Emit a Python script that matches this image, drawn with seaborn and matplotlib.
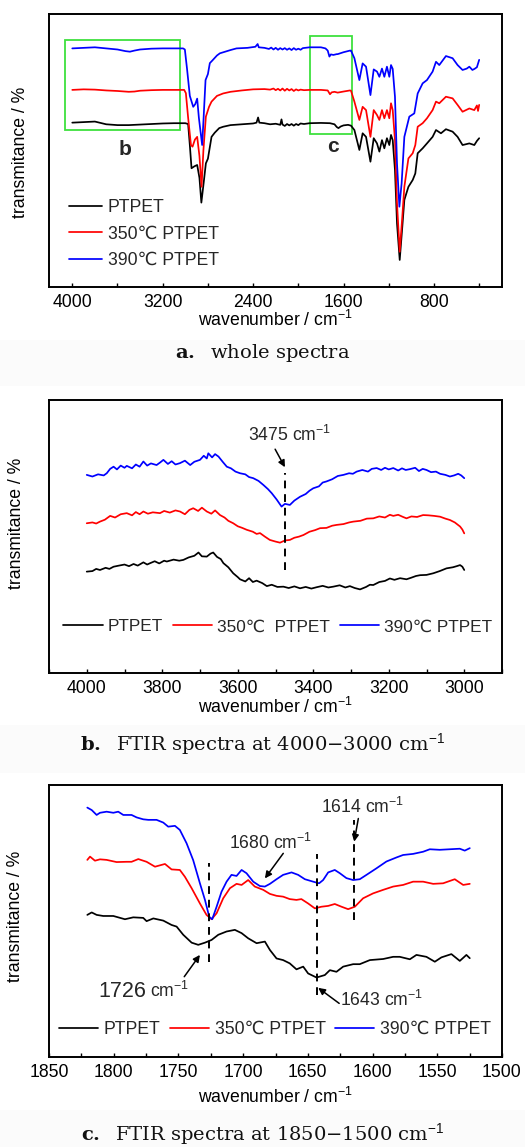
import numpy as np
import pandas as pd
import matplotlib
matplotlib.use("Agg")
import matplotlib.pyplot as plt
import seaborn as sns
from matplotlib.patches import Rectangle
from matplotlib.ticker import MultipleLocator

sns.set_theme(style="ticks")
plt.rcParams['font.family'] = ['Liberation Sans', 'DejaVu Sans']
plt.rcParams['mathtext.fontset'] = 'custom'
plt.rcParams['mathtext.rm'] = 'Liberation Sans'
plt.rcParams['mathtext.it'] = 'Liberation Sans:italic'
plt.rcParams['mathtext.bf'] = 'DejaVu Serif:bold'

# ---------------- data ----------------
series_names = ["PTPET", "350℃ PTPET", "390℃ PTPET"]
series_colors = ["#000000", "#ff0000", "#0000ff"]

# (a) whole spectra, 4000-400 cm-1 (relative transmittance, offset per sample)
wn_a_black = [4000, 3900, 3800, 3700, 3600, 3500, 3400, 3300, 3200, 3100, 3000, 2975, 2960, 2945, 2920,
              2895, 2875, 2858, 2838, 2818, 2800, 2768, 2740, 2700, 2665, 2600, 2500, 2400, 2370, 2356,
              2345, 2300, 2250, 2200, 2160, 2149, 2140, 2120, 2100, 2080, 2060, 2040, 2020, 2000, 1980,
              1950, 1900, 1800, 1720, 1680, 1660, 1645, 1625, 1600, 1560, 1534, 1504, 1460, 1431, 1401,
              1362, 1333, 1304, 1283, 1260, 1239, 1216, 1195, 1180, 1165, 1145, 1127, 1103, 1080, 1062,
              1026, 988, 965, 944, 900, 862, 812, 782, 738, 694, 635, 591, 547, 487, 443, 420, 400]
t_a_black = [60.2, 60.4, 60.6, 59.6, 59.3, 59.3, 59.5, 59.7, 59.9, 60.0, 60.0, 59.7, 52.0, 43.5, 44.2,
             44.7, 40.0, 30.9, 38.0, 45.3, 47.0, 55.0, 56.5, 58.2, 58.7, 59.3, 59.6, 59.9, 60.2, 62.1,
             60.2, 60.0, 59.6, 59.8, 59.4, 61.4, 59.5, 59.0, 59.7, 59.2, 59.7, 59.1, 59.7, 59.3, 59.9,
             59.7, 60.0, 60.1, 60.0, 59.6, 58.6, 58.2, 58.8, 59.2, 59.4, 59.1, 57.5, 50.2, 56.3, 55.0,
             45.9, 54.5, 52.6, 49.6, 53.8, 50.8, 54.5, 52.0, 55.7, 53.8, 42.9, 23.3, 9.9, 22.1, 31.9,
             36.7, 39.2, 41.6, 49.0, 50.8, 52.6, 55.0, 57.5, 56.3, 57.8, 56.9, 55.0, 52.0, 52.6, 52.0,
             53.5, 54.5]

wn_a_red = [4000, 3900, 3800, 3700, 3600, 3500, 3450, 3400, 3300, 3200, 3100, 3010, 2995, 2975, 2950,
            2936, 2915, 2895, 2875, 2856, 2840, 2818, 2790, 2768, 2720, 2665, 2600, 2500, 2400, 2300,
            2250, 2220, 2200, 2180, 2160, 2140, 2120, 2100, 2080, 2060, 2040, 2020, 2000, 1980, 1950,
            1900, 1800, 1740, 1720, 1705, 1680, 1652, 1600, 1543, 1534, 1504, 1460, 1431, 1401, 1362,
            1333, 1304, 1283, 1260, 1239, 1216, 1195, 1180, 1165, 1145, 1127, 1103, 1080, 1062, 1026,
            988, 965, 944, 900, 862, 812, 782, 753, 694, 635, 591, 547, 487, 443, 420, 410, 400]
t_a_red = [72.2, 72.4, 72.3, 72.0, 71.8, 71.5, 71.6, 71.9, 72.1, 72.2, 72.2, 72.2, 71.0, 62.0, 52.0,
           51.4, 54.0, 55.0, 48.0, 36.7, 50.0, 62.4, 66.0, 67.9, 70.0, 70.9, 71.5, 72.0, 72.4, 72.5,
           72.3, 72.7, 72.1, 72.6, 72.0, 72.7, 71.9, 72.6, 72.0, 72.5, 71.8, 72.4, 72.0, 72.3, 72.1,
           72.2, 72.2, 72.0, 70.6, 71.3, 71.5, 71.2, 71.6, 72.0, 71.9, 67.9, 61.2, 66.0, 64.8, 55.0,
           64.8, 63.0, 61.2, 64.8, 61.8, 64.8, 61.8, 67.3, 64.8, 53.8, 30.7, 12.9, 25.8, 36.7, 47.1,
           49.0, 52.0, 58.7, 60.0, 61.8, 64.8, 67.9, 67.3, 69.7, 69.1, 66.7, 64.2, 65.4, 64.8, 66.5,
           64.5, 66.7]

wn_a_blue = [4000, 3900, 3800, 3700, 3600, 3530, 3490, 3450, 3400, 3300, 3200, 3100, 3020, 3004, 2985,
             2960, 2930, 2912, 2895, 2880, 2851, 2838, 2821, 2800, 2783, 2760, 2720, 2694, 2600, 2547,
             2450, 2380, 2360, 2350, 2300, 2260, 2240, 2220, 2200, 2180, 2160, 2140, 2120, 2100, 2080,
             2060, 2040, 2020, 2000, 1980, 1960, 1900, 1800, 1760, 1740, 1725, 1712, 1690, 1660, 1652,
             1600, 1543, 1534, 1504, 1460, 1431, 1401, 1362, 1333, 1304, 1283, 1260, 1239, 1216, 1195,
             1180, 1165, 1145, 1127, 1106, 1086, 1062, 1018, 974, 944, 900, 862, 812, 782, 753, 694,
             635, 591, 547, 510, 487, 460, 441, 420, 400]
t_a_blue = [87.4, 87.6, 87.8, 87.4, 87.0, 86.4, 86.2, 86.6, 87.0, 87.3, 87.4, 87.4, 87.4, 87.0, 80.0,
            70.0, 66.0, 67.0, 69.0, 62.0, 52.0, 62.0, 75.8, 78.0, 82.0, 83.0, 84.8, 85.6, 86.8, 87.4,
            87.6, 88.0, 89.0, 87.8, 87.6, 87.2, 87.7, 87.0, 87.6, 86.9, 87.5, 87.0, 87.5, 86.9, 87.4,
            86.8, 87.5, 86.9, 87.3, 86.9, 87.5, 87.8, 87.8, 87.4, 86.6, 84.4, 85.2, 85.0, 85.3, 85.3,
            86.0, 86.6, 86.6, 83.8, 75.8, 81.9, 80.7, 70.3, 79.7, 78.9, 77.0, 80.0, 77.0, 80.7, 77.0,
            81.3, 79.9, 69.7, 45.3, 29.4, 38.0, 55.0, 62.4, 63.6, 70.9, 74.6, 75.8, 78.9, 82.5, 81.3,
            84.6, 83.8, 81.3, 79.5, 80.0, 80.7, 79.5, 79.9, 80.5, 83.2]

# (b) 4000-3000 cm-1
wn_b_black = [4000, 3985, 3975, 3965, 3950, 3940, 3929, 3915, 3900, 3888, 3876, 3865, 3850, 3840, 3832,
              3820, 3808, 3795, 3788, 3770, 3755, 3744, 3730, 3715, 3704, 3695, 3682, 3672, 3665, 3655,
              3645, 3638, 3625, 3612, 3600, 3594, 3580, 3570, 3560, 3550, 3535, 3523, 3510, 3495, 3479,
              3465, 3450, 3435, 3420, 3405, 3391, 3375, 3360, 3347, 3330, 3315, 3303, 3290, 3276, 3260,
              3250, 3241, 3225, 3210, 3197, 3185, 3170, 3153, 3140, 3128, 3117, 3100, 3082, 3065, 3047,
              3030, 3020, 3011, 3005, 3000]
t_b_black = [37.2, 37.4, 38.2, 37.8, 38.6, 38.2, 39.0, 39.4, 39.8, 39.2, 40.0, 39.4, 40.6, 39.8, 40.3,
             41.0, 40.2, 41.2, 40.9, 41.6, 41.2, 41.5, 42.4, 43.0, 44.2, 42.8, 42.7, 43.8, 44.2, 42.6,
             41.8, 40.3, 38.8, 36.6, 35.2, 34.4, 33.6, 34.8, 33.4, 33.9, 33.0, 31.9, 32.4, 31.6, 31.7,
             31.2, 31.8, 31.1, 31.6, 31.0, 31.5, 32.0, 31.4, 31.7, 32.2, 31.4, 31.9, 31.2, 30.7, 31.6,
             32.4, 32.3, 33.4, 33.8, 34.7, 34.2, 34.8, 34.4, 35.0, 35.6, 35.9, 36.0, 36.6, 37.4, 38.4,
             38.8, 39.2, 39.6, 39.0, 37.8]
wn_b_red = [4000, 3985, 3975, 3965, 3952, 3938, 3925, 3910, 3894, 3880, 3870, 3860, 3850, 3838, 3825,
            3806, 3795, 3780, 3765, 3753, 3740, 3728, 3718, 3705, 3695, 3682, 3670, 3660, 3647, 3635,
            3625, 3612, 3600, 3588, 3576, 3560, 3550, 3541, 3528, 3515, 3500, 3488, 3475, 3462, 3450,
            3438, 3426, 3410, 3395, 3382, 3365, 3350, 3338, 3320, 3305, 3294, 3275, 3258, 3241, 3225,
            3210, 3197, 3188, 3175, 3162, 3153, 3140, 3125, 3109, 3095, 3080, 3064, 3050, 3038, 3025,
            3011, 3005, 3000]
t_b_red = [54.9, 55.2, 54.8, 55.5, 56.2, 57.6, 57.0, 58.2, 58.6, 57.8, 59.0, 58.2, 59.2, 58.4, 58.9,
           58.6, 59.4, 58.8, 59.6, 59.2, 58.2, 59.8, 60.4, 59.4, 60.6, 59.2, 58.4, 59.6, 57.9, 57.0,
           55.8, 54.9, 53.8, 53.2, 52.5, 51.8, 51.0, 51.3, 50.0, 48.8, 48.2, 47.8, 48.6, 48.8, 49.6,
           50.0, 50.6, 51.8, 52.4, 53.1, 53.2, 54.0, 54.3, 54.6, 55.2, 55.5, 55.8, 56.6, 56.7, 57.4,
           57.0, 58.0, 57.6, 58.0, 57.2, 56.7, 57.4, 57.2, 57.9, 57.8, 57.6, 57.3, 56.6, 56.1, 55.2,
           53.7, 52.6, 51.2]
wn_b_blue = [4000, 3985, 3970, 3955, 3947, 3938, 3929, 3920, 3910, 3900, 3894, 3880, 3870, 3860, 3850,
             3840, 3830, 3815, 3805, 3797, 3785, 3775, 3765, 3753, 3740, 3726, 3715, 3700, 3690, 3682,
             3678, 3668, 3660, 3651, 3640, 3629, 3618, 3606, 3594, 3580, 3570, 3559, 3545, 3532, 3520,
             3510, 3497, 3484, 3475, 3462, 3450, 3435, 3420, 3410, 3400, 3385, 3375, 3365, 3350, 3335,
             3320, 3305, 3295, 3285, 3270, 3255, 3245, 3232, 3220, 3210, 3200, 3188, 3175, 3165, 3155,
             3144, 3130, 3120, 3110, 3100, 3088, 3075, 3064, 3050, 3038, 3027, 3016, 3008, 3000]
t_b_blue = [72.6, 72.0, 72.8, 72.4, 73.2, 74.8, 75.6, 74.6, 76.0, 75.2, 75.9, 75.0, 76.4, 75.6, 77.5,
            76.0, 76.8, 76.2, 77.2, 78.1, 76.6, 77.6, 76.4, 76.9, 77.8, 76.2, 77.4, 78.1, 79.6, 78.6,
            80.5, 79.0, 80.2, 79.3, 77.4, 75.6, 75.0, 73.8, 73.2, 72.8, 71.8, 71.4, 70.4, 68.9, 67.4,
            65.9, 63.6, 61.0, 62.0, 61.6, 63.2, 64.6, 65.6, 66.8, 67.7, 68.4, 69.8, 70.2, 71.0, 72.2,
            72.6, 73.2, 73.0, 73.8, 74.4, 73.8, 74.8, 75.1, 74.4, 75.2, 74.6, 75.1, 74.2, 75.0, 74.4,
            74.7, 75.2, 74.0, 74.8, 74.4, 73.6, 73.8, 73.0, 72.6, 72.0, 72.4, 73.0, 72.4, 71.4]

# (c) 1850-1500 cm-1
wn_c_black = [1820.4, 1817.0, 1813.2, 1808.1, 1800.3, 1791.3, 1784.9, 1777.2, 1774.6, 1769.4, 1761.7,
              1755.3, 1751.4, 1746.3, 1739.8, 1734.7, 1729.5, 1724.4, 1719.2, 1712.8, 1706.4, 1701.2,
              1696.1, 1689.6, 1683.2, 1679.3, 1674.2, 1669.1, 1664.0, 1658.8, 1653.6, 1649.8, 1643.3,
              1636.9, 1633.0, 1627.9, 1622.7, 1615.0, 1609.9, 1602.1, 1591.8, 1584.1, 1579.0, 1571.2,
              1566.1, 1558.4, 1551.9, 1546.8, 1539.1, 1532.6, 1527.5, 1524.9]
t_c_black = [52.3, 53.2, 52.3, 51.9, 51.9, 50.7, 51.4, 51.2, 50.0, 51.0, 50.2, 48.6, 48.0, 45.0, 42.1,
             41.3, 42.1, 43.1, 45.0, 46.2, 46.8, 45.6, 43.7, 41.9, 42.5, 39.4, 36.3, 35.7, 34.5, 32.3,
             33.3, 30.8, 29.3, 30.2, 32.0, 31.4, 33.3, 34.2, 34.2, 35.7, 36.1, 36.9, 36.9, 36.0, 37.6,
             36.9, 35.1, 36.7, 37.9, 35.4, 37.6, 36.4]
wn_c_red = [1820.4, 1818.3, 1814.5, 1810.6, 1805.5, 1797.8, 1790.0, 1786.2, 1781.0, 1774.6, 1768.1,
            1760.4, 1755.3, 1748.9, 1745.0, 1739.8, 1733.4, 1728.3, 1724.4, 1720.5, 1715.4, 1710.2,
            1705.1, 1701.2, 1696.1, 1691.0, 1684.5, 1679.3, 1674.2, 1669.1, 1664.0, 1658.8, 1655.0,
            1649.8, 1644.6, 1639.5, 1634.3, 1629.2, 1624.0, 1618.9, 1613.7, 1607.3, 1599.6, 1591.8,
            1584.1, 1576.4, 1568.7, 1560.9, 1553.2, 1545.5, 1536.5, 1530.0, 1524.9]
t_c_red = [72.5, 73.7, 72.2, 72.7, 72.5, 71.7, 71.8, 71.8, 72.8, 71.8, 70.0, 71.0, 69.0, 68.8, 66.3,
           62.1, 56.5, 52.3, 50.7, 52.9, 58.4, 62.1, 63.7, 63.3, 65.1, 62.7, 61.5, 60.0, 59.3, 59.0,
           58.1, 57.8, 58.1, 56.5, 54.7, 55.3, 55.6, 56.3, 55.3, 54.4, 55.3, 58.4, 60.2, 61.5, 62.7,
           63.3, 64.5, 64.5, 63.7, 63.9, 65.4, 63.3, 63.7]
wn_c_blue = [1820.4, 1817.0, 1813.2, 1810.6, 1805.5, 1800.3, 1796.5, 1792.6, 1786.2, 1782.3, 1777.2,
             1773.3, 1766.9, 1761.7, 1757.9, 1752.7, 1748.9, 1743.7, 1738.6, 1733.4, 1729.5, 1726.2,
             1723.9, 1720.5, 1716.7, 1712.8, 1709.0, 1705.1, 1701.2, 1697.4, 1692.2, 1687.1, 1683.2,
             1679.3, 1674.2, 1669.1, 1662.6, 1657.5, 1652.3, 1645.9, 1641.3, 1638.2, 1634.3, 1629.2,
             1625.3, 1620.2, 1615.0, 1609.9, 1604.7, 1597.0, 1589.3, 1581.5, 1576.4, 1568.7, 1560.9,
             1555.8, 1548.1, 1540.4, 1532.6, 1528.8, 1524.9]
t_c_blue = [91.7, 90.8, 89.0, 89.8, 90.2, 89.8, 90.2, 89.0, 89.0, 88.1, 87.4, 87.2, 87.2, 86.2, 84.7,
            85.0, 83.5, 78.6, 72.4, 63.9, 57.8, 51.6, 50.7, 55.3, 60.8, 64.5, 67.0, 66.6, 68.8, 67.6,
            64.5, 62.9, 62.7, 63.7, 65.4, 67.0, 67.9, 67.0, 65.4, 64.5, 63.9, 65.1, 67.9, 68.8, 67.6,
            65.8, 65.1, 65.4, 67.0, 69.4, 71.9, 73.4, 74.3, 74.7, 75.5, 76.4, 76.2, 76.4, 76.6, 75.9,
            76.8]

# marked band positions
peak_b = 3475
peaks_c = [1726, 1680, 1643, 1614]

x_label = "wavenumber / cm$^{-1}$"
y_label = "transmitance / %"
captions = [r"$\mathbf{a.}$  whole spectra",
            r"$\mathbf{b.}$  FTIR spectra at 4000−3000 cm$^{-1}$",
            r"$\mathbf{c.}$  FTIR spectra at 1850−1500 cm$^{-1}$"]

# ---------------- figure ----------------
W, H = 525, 1147
fig = plt.figure(figsize=(W / 100, H / 100), dpi=100)
fig.patch.set_facecolor("white")

def fbox(left, top, right, bottom):
    return [left / W, 1 - bottom / H, (right - left) / W, (bottom - top) / H]

# faint caption bands of the page
for top, bot in [(340, 386), (725, 773), (1110, 1147)]:
    fig.patches.append(Rectangle((0, 1 - bot / H), 1, (bot - top) / H, transform=fig.transFigure,
                                 facecolor="#fbfbfb", edgecolor="none", zorder=0))

ax_a = fig.add_axes(fbox(49, 14, 502, 287))
ax_b = fig.add_axes(fbox(49, 400, 502, 673.3))
ax_c = fig.add_axes(fbox(49, 785, 502, 1057.3))

FS = 12.7
LFS = 12.4
LW = 1.25

def draw(ax, wns, ts, xlim, major, minor):
    for wn, t, name, col in zip(wns, ts, series_names, series_colors):
        df = pd.DataFrame({"wavenumber": wn, "T": t})
        sns.lineplot(data=df, x="wavenumber", y="T", ax=ax, color=col, lw=LW,
                     sort=False, estimator=None, label=name, legend=False)
    ax.set_xlim(*xlim)
    ax.set_ylim(0, 100)
    ax.xaxis.set_major_locator(MultipleLocator(major))
    ax.xaxis.set_minor_locator(MultipleLocator(minor))
    ax.tick_params(axis="x", which="both", direction="in", length=3, width=1.0,
                   color="black", top=False, bottom=True, labelsize=FS, pad=5, labelcolor="black")
    ax.tick_params(axis="y", which="both", left=False, right=False, labelleft=False)
    for s in ax.spines.values():
        s.set_visible(True)
        s.set_color("black")
        s.set_linewidth(1.4)
    ax.set_facecolor("white")
    ax.set_xlabel(x_label, fontsize=FS, color="black")
    ax.set_ylabel(y_label, fontsize=FS, color="black")

draw(ax_a, [wn_a_black, wn_a_red, wn_a_blue], [t_a_black, t_a_red, t_a_blue], (4206, 198), 800, 400)
draw(ax_b, [wn_b_black, wn_b_red, wn_b_blue], [t_b_black, t_b_red, t_b_blue], (4100, 2900), 200, 100)
draw(ax_c, [wn_c_black, wn_c_red, wn_c_blue], [t_c_black, t_c_red, t_c_blue], (1850, 1500), 50, 25)

ax_a.xaxis.set_label_coords(0.5, -0.084)
ax_b.xaxis.set_label_coords(0.5, -0.087)
ax_c.xaxis.set_label_coords(0.5, -0.108)
ax_a.yaxis.set_label_coords(-0.044, 0.494)
ax_b.yaxis.set_label_coords(-0.053, 0.55)
ax_c.yaxis.set_label_coords(-0.055, 0.519)

# legends
h_a, l_a = ax_a.get_legend_handles_labels()
ax_a.legend(h_a, l_a, loc="center left", bbox_to_anchor=(0.044, 0.194), frameon=False,
            fontsize=FS, handlelength=1.9, handletextpad=0.3, labelspacing=0.55,
            borderpad=0, borderaxespad=0)
h_b, l_b = ax_b.get_legend_handles_labels()
ax_b.legend(h_b, ["PTPET", "350℃  PTPET", "390℃ PTPET"], loc="center left",
            bbox_to_anchor=(0.031, 0.17), ncol=3, frameon=False, fontsize=LFS,
            handlelength=2.3, handletextpad=0.3, columnspacing=0.55, borderpad=0, borderaxespad=0)
h_c, l_c = ax_c.get_legend_handles_labels()
ax_c.legend(h_c, l_c, loc="center left", bbox_to_anchor=(0.022, 0.103), ncol=3, frameon=False,
            fontsize=FS, handlelength=2.2, handletextpad=0.33, columnspacing=0.55,
            borderpad=0, borderaxespad=0)

# (a) zoom-region boxes
green = "#3ee03e"
ax_a.add_patch(Rectangle((4065, 57.5), 3044 - 4065, 90.5 - 57.5, fill=False, edgecolor=green, lw=1.3))
ax_a.add_patch(Rectangle((1900, 56.0), 1523 - 1900, 92.0 - 56.0, fill=False, edgecolor=green, lw=1.3))
ax_a.text(3534, 50.5, "b", fontsize=15, fontweight="bold", ha="center", va="center")
ax_a.text(1694, 51.6, "c", fontsize=15, fontweight="bold", ha="center", va="center")

arrow = dict(arrowstyle="-|>", color="black", lw=1.1, mutation_scale=10, shrinkA=0, shrinkB=0)
dash = dict(color="black", lw=1.4, ls=(0, (4, 3)))

# (b) marks
ax_b.plot([peak_b, peak_b], [37.8, 73.2], **dash)
ax_b.annotate("", xy=(peak_b, 75.4), xytext=(3501, 82), arrowprops=arrow)
ax_b.text(3462, 85, f"{peak_b} cm$^{{-1}}$", fontsize=FS, ha="center", va="baseline")

# (c) marks
ax_c.plot([peaks_c[0], peaks_c[0]], [35.1, 71.4], **dash)
ax_c.plot([peaks_c[2], peaks_c[2]], [22.9, 74.7], **dash)
ax_c.plot([peaks_c[3], peaks_c[3]], [50.4, 87.2], **dash)

ax_c.text(1774.5, 22.3, f"{peaks_c[0]}", fontsize=15.5, ha="right", va="baseline")
ax_c.text(1772, 22.3, "cm$^{-1}$", fontsize=FS, ha="left", va="baseline")
ax_c.annotate("", xy=(1733.4, 37.6), xytext=(1745.5, 29.6), arrowprops=arrow)

ax_c.text(1678.6, 76.4, f"{peaks_c[1]} cm$^{{-1}}$", fontsize=FS, ha="center", va="baseline")
ax_c.annotate("", xy=(1683.2, 65.7), xytext=(1669, 74.9), arrowprops=arrow)

ax_c.text(1607.5, 89.6, f"{peaks_c[3]} cm$^{{-1}}$", fontsize=FS, ha="center", va="baseline")
ax_c.annotate("", xy=(1614.2, 79.2), xytext=(1611, 87.7), arrowprops=arrow)

ax_c.text(1592.6, 18.8, f"{peaks_c[2]} cm$^{{-1}}$", fontsize=FS, ha="center", va="baseline")
ax_c.annotate("", xy=(1642, 25.5), xytext=(1625.8, 19.8), arrowprops=arrow)

# captions
for y_px, cap in zip([358, 750, 1140], captions):
    fig.text(0.5, 1 - y_px / H, cap, ha="center", va="baseline", fontsize=14,
             family=["DejaVu Serif"], color="#111111")

fig.savefig("out.png", dpi=100, facecolor="white")
